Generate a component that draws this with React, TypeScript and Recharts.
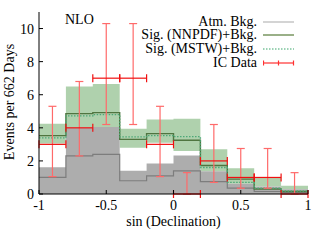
import {
  Area,
  ComposedChart,
  ErrorBar,
  Label,
  Line,
  Scatter,
  XAxis,
  YAxis,
} from "recharts"

// bins in sin(declination)
const binEdges = [-1, -0.8, -0.6, -0.4, -0.2, 0, 0.2, 0.4, 0.6, 0.8, 1]
const binCenters = [-0.9, -0.7, -0.5, -0.3, -0.1, 0.1, 0.3, 0.5, 0.7, 0.9]

// atmospheric background: central value and upper edge of band
const atmBkg = [1.0, 2.3, 2.4, 0.8, 1.1, 1.4, 0.75, 0.35, 0.15, 0.1]
const atmBkgHigh = [1.62, 4.0, 4.05, 1.4, 1.85, 2.32, 1.38, 0.62, 0.45, 0.28]

// signal + background band and the two PDF curves
const sigLow = [3.05, 4.0, 4.05, 2.8, 3.1, 2.6, 1.38, 0.62, 0.45, 0.28]
const sigHigh = [4.25, 6.5, 6.65, 3.95, 4.5, 4.55, 2.7, 1.55, 1.0, 0.5]
const sigNNPDF = [3.53, 4.86, 4.92, 3.3, 3.65, 3.25, 1.72, 0.9, 0.3, 0.15]
const sigMSTW = [3.39, 4.72, 4.8, 3.45, 3.53, 3.47, 1.6, 0.7, 0.35, 0.18]

// IceCube events with error range
const icData = [3, 4, 7, 7, 3, 0, 2, 1, 1, 0]
const icLow = [1.05, 2.3, 4.2, 4.2, 1.05, 0, 0.7, 0.35, 0.35, 0]
const icHigh = [5.3, 6.8, 10.3, 10.3, 5.3, 1.29, 4.2, 2.75, 2.75, 1.29]

const xTicks = [-1, -0.5, 0, 0.5, 1]
const yTicks = [0, 2, 4, 6, 8, 10]

const FONT = "'Liberation Serif', 'Times New Roman', serif"

// step rows: one per edge, last edge repeats last bin so stepAfter closes it
const histRows = binEdges.map((x, i) => {
  const j = Math.min(i, binCenters.length - 1)
  return {
    x,
    atm: atmBkg[j],
    atmHigh: atmBkgHigh[j],
    sigBand: [sigLow[j], sigHigh[j]],
    nnpdf: sigNNPDF[j],
    mstw: sigMSTW[j],
  }
})

const icRows = binCenters.map((x, i) => ({
  x,
  y: icData[i],
  xErr: 0.1,
  yErr: [icData[i] - icLow[i], icHigh[i] - icData[i]],
}))

const legendRows = [
  { name: "Atm. Bkg.", kind: "atm" },
  { name: "Sig. (NNPDF)+Bkg.", kind: "nnpdf" },
  { name: "Sig. (MSTW)+Bkg.", kind: "mstw" },
  { name: "IC Data", kind: "data" },
]

function Sample({ kind }: { kind: string }) {
  return (
    <svg width={32} height={13.7} style={{ marginLeft: 6, display: "block" }}>
      {kind === "atm" && <line x1={0} x2={31} y1={7} y2={7} stroke="#b8b8b8" strokeWidth={1.2} />}
      {kind === "nnpdf" && <line x1={0} x2={31} y1={7} y2={7} stroke="#6f8f55" strokeWidth={1.4} />}
      {kind === "mstw" && (
        <line x1={0} x2={31} y1={7} y2={7} stroke="#7cc49c" strokeWidth={1.4} strokeDasharray="1.5 1.5" />
      )}
      {kind === "data" && (
        <g stroke="#ff3030" strokeWidth={1.2}>
          <line x1={0.5} x2={31} y1={7} y2={7} />
          <line x1={0.5} x2={0.5} y1={4.5} y2={9.5} />
          <line x1={15.5} x2={15.5} y1={4.5} y2={9.5} />
          <line x1={30.5} x2={30.5} y1={4.5} y2={9.5} />
        </g>
      )}
    </svg>
  )
}

export default function App() {
  return (
    <div
      style={{
        position: "absolute",
        left: 0,
        top: 0,
        width: 322,
        height: 247,
        background: "#fff",
        fontFamily: FONT,
      }}
    >
      <ComposedChart
        width={322}
        height={247}
        data={histRows}
        margin={{ top: 12, right: 14, bottom: 0, left: 0 }}
        style={{ fontFamily: FONT }}
      >
        <XAxis
          dataKey="x"
          type="number"
          domain={[-1, 1]}
          ticks={xTicks}
          height={53}
          allowDataOverflow
          tickSize={-4}
          tickMargin={10.5}
          tick={{ fill: "#000", fontSize: 14 }}
          tickLine={{ stroke: "#000" }}
          axisLine={{ stroke: "#000" }}
        >
          <Label
            content={() => (
              <text x={173.5} y={225.5} textAnchor="middle" fontSize={14} fill="#000" fontFamily={FONT}>
                sin (Declination)
              </text>
            )}
          />
        </XAxis>
        <XAxis
          xAxisId="top"
          orientation="top"
          type="number"
          domain={[-1, 1]}
          ticks={xTicks}
          height={0}
          tick={false}
          tickSize={-4}
          tickLine={{ stroke: "#000" }}
          axisLine={{ stroke: "#000" }}
        />
        <YAxis
          type="number"
          domain={[0, 11]}
          ticks={yTicks}
          width={39}
          allowDataOverflow
          tickSize={-4}
          tickMargin={9}
          tick={{ fill: "#000", fontSize: 14 }}
          tickLine={{ stroke: "#000" }}
          axisLine={{ stroke: "#000" }}
        >
          <Label
            content={() => (
              <text
                x={14}
                y={102}
                transform="rotate(-90, 14, 102)"
                textAnchor="middle"
                fontSize={14}
                fill="#000"
                fontFamily={FONT}
              >
                Events per 662 Days
              </text>
            )}
          />
        </YAxis>
        <YAxis
          yAxisId="right"
          orientation="right"
          type="number"
          domain={[0, 11]}
          ticks={yTicks}
          width={0}
          tick={false}
          tickSize={-4}
          tickLine={{ stroke: "#000" }}
          axisLine={{ stroke: "#000" }}
        />

        <Area
          type="stepAfter"
          dataKey="sigBand"
          stroke="none"
          fill="#afd1ad"
          fillOpacity={1}
          isAnimationActive={false}
        />
        <Area
          type="stepAfter"
          dataKey="atmHigh"
          stroke="none"
          fill="#adadad"
          fillOpacity={1}
          isAnimationActive={false}
        />
        <Line
          type="stepAfter"
          dataKey="atm"
          stroke="#7d7d7d"
          strokeWidth={1.2}
          dot={false}
          isAnimationActive={false}
        />
        <Line
          type="stepAfter"
          dataKey="nnpdf"
          stroke="#4f7540"
          strokeWidth={1.4}
          dot={false}
          isAnimationActive={false}
        />
        <Line
          type="stepAfter"
          dataKey="mstw"
          stroke="#4ea878"
          strokeWidth={1.4}
          strokeDasharray="1.5 1.5"
          dot={false}
          isAnimationActive={false}
        />
        <Scatter data={icRows} dataKey="y" shape={() => <g />} isAnimationActive={false}>
          <ErrorBar dataKey="yErr" direction="y" width={4} stroke="#ff6a6a" strokeWidth={1.2} />
          <ErrorBar dataKey="xErr" direction="x" width={4} stroke="#f01010" strokeWidth={1.2} />
        </Scatter>
      </ComposedChart>

      <div style={{ position: "absolute", left: 65, top: 13, fontSize: 14, lineHeight: "14px" }}>NLO</div>

      <div style={{ position: "absolute", left: 95, top: 14.5, width: 200, fontSize: 14 }}>
        {legendRows.map((r) => (
          <div
            key={r.name}
            style={{ display: "flex", justifyContent: "flex-end", alignItems: "center", height: 13.7, lineHeight: "13.7px" }}
          >
            <span style={{ whiteSpace: "nowrap" }}>{r.name}</span>
            <Sample kind={r.kind} />
          </div>
        ))}
      </div>
    </div>
  )
}
